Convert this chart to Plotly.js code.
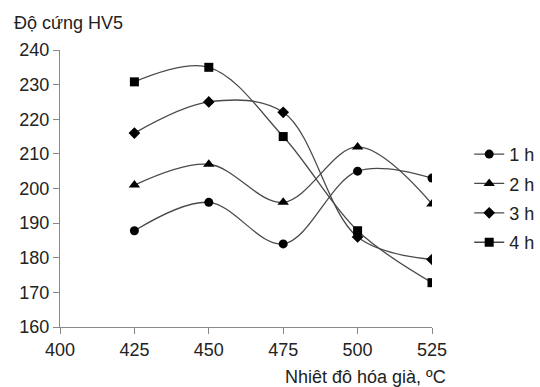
<!DOCTYPE html>
<html>
<head>
<meta charset="utf-8">
<script src="https://cdn.plot.ly/plotly-3.0.1.min.js"></script>
<style>html,body{margin:0;padding:0;background:#fff;}#chart{width:540px;height:387px;}</style>
</head>
<body>
<div id="chart"></div>
<script>
const temps = [425, 450, 475, 500, 525];
const seriesNames = ["1 h", "2 h", "3 h", "4 h"];
const h1 = [187.8, 196, 184, 205, 203];
const h2 = [201, 207, 196, 212, 195.5];
const h3 = [216, 225, 222, 186, 179.5];
const h4 = [230.8, 235, 215, 187.8, 172.8];
const xTicks = [400, 425, 450, 475, 500, 525];
const yTicks = [160, 170, 180, 190, 200, 210, 220, 230, 240];

const symbols = ["circle", "triangle-up", "diamond", "square"];
const sizes = [9, 10, 9, 9];
const allY = [h1, h2, h3, h4];

const traces = allY.map((ys, i) => ({
  x: temps, y: ys, name: seriesNames[i], type: "scatter", mode: "lines+markers",
  legendgroup: "g" + i,
  line: {shape: "spline", smoothing: 1, color: "#4a4a4a", width: 1.3},
  marker: {symbol: symbols[i], size: sizes[i], color: "#000"}
}));

const font = {family: "Liberation Sans, Arial, sans-serif", size: 18, color: "#222"};
const layout = {
  width: 540, height: 387,
  margin: {l: 60, r: 108, t: 50, b: 60, autoexpand: false},
  paper_bgcolor: "#fff", plot_bgcolor: "#fff",
  font: font,
  showlegend: true,
  legend: {x: 1.1, y: 0.69, xanchor: "left", yanchor: "top", font: font, itemwidth: 30,
           traceorder: "grouped", tracegroupgap: 3, bgcolor: "rgba(0,0,0,0)"},
  xaxis: {
    range: [400, 525], tickvals: xTicks, ticktext: xTicks.map(String),
    showgrid: false, zeroline: false, showline: true, linecolor: "#888", linewidth: 1,
    ticks: "outside", ticklen: 6, tickcolor: "#888", tickfont: font,
    title: {text: ""}
  },
  yaxis: {
    range: [160, 240], tickvals: yTicks, ticktext: yTicks.map(String),
    showgrid: false, zeroline: false, showline: true, linecolor: "#888", linewidth: 1,
    ticks: "outside", ticklen: 6, tickcolor: "#888", tickfont: font,
    title: {text: ""}
  },
  annotations: [
    {text: "Độ cứng HV5", xref: "paper", yref: "paper", x: -0.13, y: 1.0, yshift: 27, xanchor: "left", yanchor: "middle", showarrow: false, font: font},
    {text: "Nhiêt đô hóa già, ºC", xref: "paper", yref: "paper", x: 1.0, y: 0, yshift: -50, xshift: 16, xanchor: "right", yanchor: "middle", showarrow: false, font: font}
  ]
};
Plotly.newPlot("chart", traces, layout, {displayModeBar: false, staticPlot: true});
</script>
</body>
</html>
